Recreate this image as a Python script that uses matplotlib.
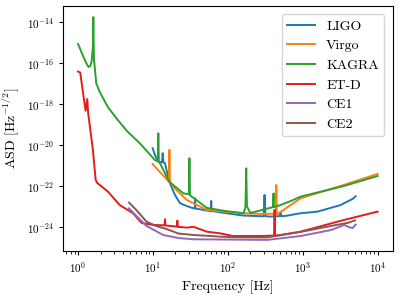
import numpy as np
import matplotlib
matplotlib.use("Agg")
import matplotlib.pyplot as plt
from matplotlib.ticker import NullLocator

plt.rcParams['font.family'] = 'serif'
plt.rcParams['font.serif'] = ['cmr10', 'DejaVu Serif']
plt.rcParams['mathtext.fontset'] = 'cm'
plt.rcParams['axes.formatter.use_mathtext'] = True
plt.rcParams['axes.unicode_minus'] = False

# LIGO
ligo_f = [9.9, 10.8, 11.8, 13.2, 13.5, 13.8, 14.5, 16.5, 19.7, 23, 28.3, 34.8, 36.2, 36.6, 37.0, 40,
          52.6, 59.5, 60, 60.5, 92, 160, 220, 300, 309, 318, 370, 495, 505, 515, 590, 935, 1580, 3200, 4100, 4700, 5080]
ligo_a = [10**-20.16, 10**-20.55, 10**-20.81, 10**-20.85, 10**-20.4, 10**-20.85, 10**-20.89, 10**-21.79, 10**-22.44,
          10**-22.84, 10**-22.98, 10**-23.09, 10**-23.1, 10**-22.6, 10**-23.1, 10**-23.12,
          10**-23.2, 10**-23.22, 10**-22.73, 10**-23.22, 10**-23.32, 10**-23.44, 10**-23.46, 10**-23.48, 10**-22.44, 10**-23.48,
          10**-23.49, 10**-23.47, 10**-23.27, 10**-23.47, 10**-23.46, 10**-23.33, 10**-23.25, 10**-22.93, 10**-22.73, 10**-22.62, 10**-22.5]

# Virgo
virgo_f = [9.9, 13, 16.3, 16.6, 16.9, 20, 28.3, 52.6, 147, 290, 408, 438, 444, 450, 505, 935, 3200, 10000]
virgo_a = [10**-20.93, 10**-21.4, 10**-21.79, 10**-20.24, 10**-21.82, 10**-22.15, 10**-22.68, 10**-23.17, 10**-23.32,
           10**-23.37, 10**-23.35, 10**-23.35, 10**-21.95, 10**-23.4, 10**-23.27, 10**-22.6, 10**-22.0, 10**-21.41]

# KAGRA
kagra_f = [1.0, 1.2, 1.32, 1.38, 1.45, 1.52, 1.58, 1.6, 1.63, 1.75, 1.94, 2.5, 3.26, 4.5, 6.7, 8.5, 10.6, 11.6, 11.8,
           12.0, 12.4, 16.5, 25.5, 30.2, 30.7, 31.2, 33, 52.6, 92.5, 163, 172, 176, 180, 200, 400, 408, 412, 505, 750,
           935, 3550, 10000]
kagra_a = [10**-15.07, 10**-15.76, 10**-16.08, 10**-16.2, 10**-16.15, 10**-15.94, 10**-15.2, 10**-13.76, 10**-15.77,
           10**-16.99, 10**-17.4, 10**-18.15, 10**-18.7, 10**-19.32, 10**-19.92, 10**-20.34, 10**-20.73, 10**-20.8,
           10**-19.43, 10**-20.82, 10**-20.89, 10**-21.79, 10**-22.36, 10**-22.4, 10**-20.65, 10**-22.45, 10**-22.52,
           10**-23.07, 10**-23.22, 10**-23.33, 10**-23.0, 10**-21.14, 10**-23.0, 10**-23.32, 10**-23.03, 10**-22.36,
           10**-23.03, 10**-22.93, 10**-22.68, 10**-22.52, 10**-22.0, 10**-21.51]

# ET-D
etd_f = [1.0, 1.07, 1.26, 1.33, 1.36, 1.58, 1.72, 1.79, 2.5, 3.6, 5.44, 6.3, 7.06, 8.2, 10.1, 14.3, 14.5, 14.7, 16.9,
         21.0, 21.2, 21.4, 28.3, 34.8, 52.6, 79, 118, 270, 416, 421, 426, 505, 935, 3200, 10000]
etd_a = [10**-16.42, 10**-16.47, 10**-18.33, 10**-17.76, 10**-18.39, 10**-20.24, 10**-21.7, 10**-21.84, 10**-22.27,
         10**-22.93, 10**-23.33, 10**-23.6, 10**-23.8, 10**-23.85, 10**-23.9, 10**-23.92, 10**-23.62, 10**-23.93,
         10**-23.95, 10**-23.98, 10**-23.69, 10**-23.99, 10**-24.03, 10**-23.99, 10**-24.23, 10**-24.31, 10**-24.44,
         10**-24.44, 10**-24.42, 10**-23.17, 10**-24.42, 10**-24.39, 10**-24.23, 10**-23.7, 10**-23.25]

# CE1
ce1_f = [4.8, 6.0, 8.2, 11.0, 13.7, 22.0, 34.8, 79, 335, 935, 2380, 3600, 4200, 4650, 5100]
ce1_a = [10**-23.09, 10**-23.46, 10**-23.95, 10**-24.2, 10**-24.39, 10**-24.54, 10**-24.6, 10**-24.61, 10**-24.63,
         10**-24.44, 10**-24.15, 10**-23.9, 10**-24.02, 10**-24.05, 10**-23.88]

# CE2
ce2_f = [4.8, 6.0, 8.2, 11.0, 15.2, 22.0, 34.8, 79, 120, 330, 935, 2380, 4000, 5000]
ce2_a = [10**-22.81, 10**-23.17, 10**-23.74, 10**-23.95, 10**-24.1, 10**-24.32, 10**-24.39, 10**-24.47, 10**-24.5,
         10**-24.51, 10**-24.24, 10**-23.95, 10**-23.8, 10**-23.68]

x_ticks = [1e0, 1e1, 1e2, 1e3, 1e4]
y_ticks = [1e-24, 1e-22, 1e-20, 1e-18, 1e-16, 1e-14]

series = [
    ("LIGO", ligo_f, ligo_a, "C0"),
    ("Virgo", virgo_f, virgo_a, "C1"),
    ("KAGRA", kagra_f, kagra_a, "C2"),
    ("ET-D", etd_f, etd_a, "#e41a1c"),
    ("CE1", ce1_f, ce1_a, "C4"),
    ("CE2", ce2_f, ce2_a, "C5"),
]

fig = plt.figure(figsize=(3.99, 2.95), dpi=100)
ax = fig.add_axes([0.158, 0.149, 0.826, 0.831])
for name, f, a, c in series:
    ax.loglog(f, a, color=c, lw=1.4, label=name)

ax.set_yticks(y_ticks)
ax.set_xticks(x_ticks)
ax.yaxis.set_minor_locator(NullLocator())
ax.set_xlabel("Frequency [Hz]", fontsize=10)
ax.set_ylabel(r"ASD [Hz$^{-1/2}$]", fontsize=10)
ax.tick_params(labelsize=8, length=3)
ax.tick_params(which='minor', length=1.8)
ax.legend(loc="upper right", fontsize=10, borderaxespad=0.6)
fig.savefig("out.png", dpi=100)
